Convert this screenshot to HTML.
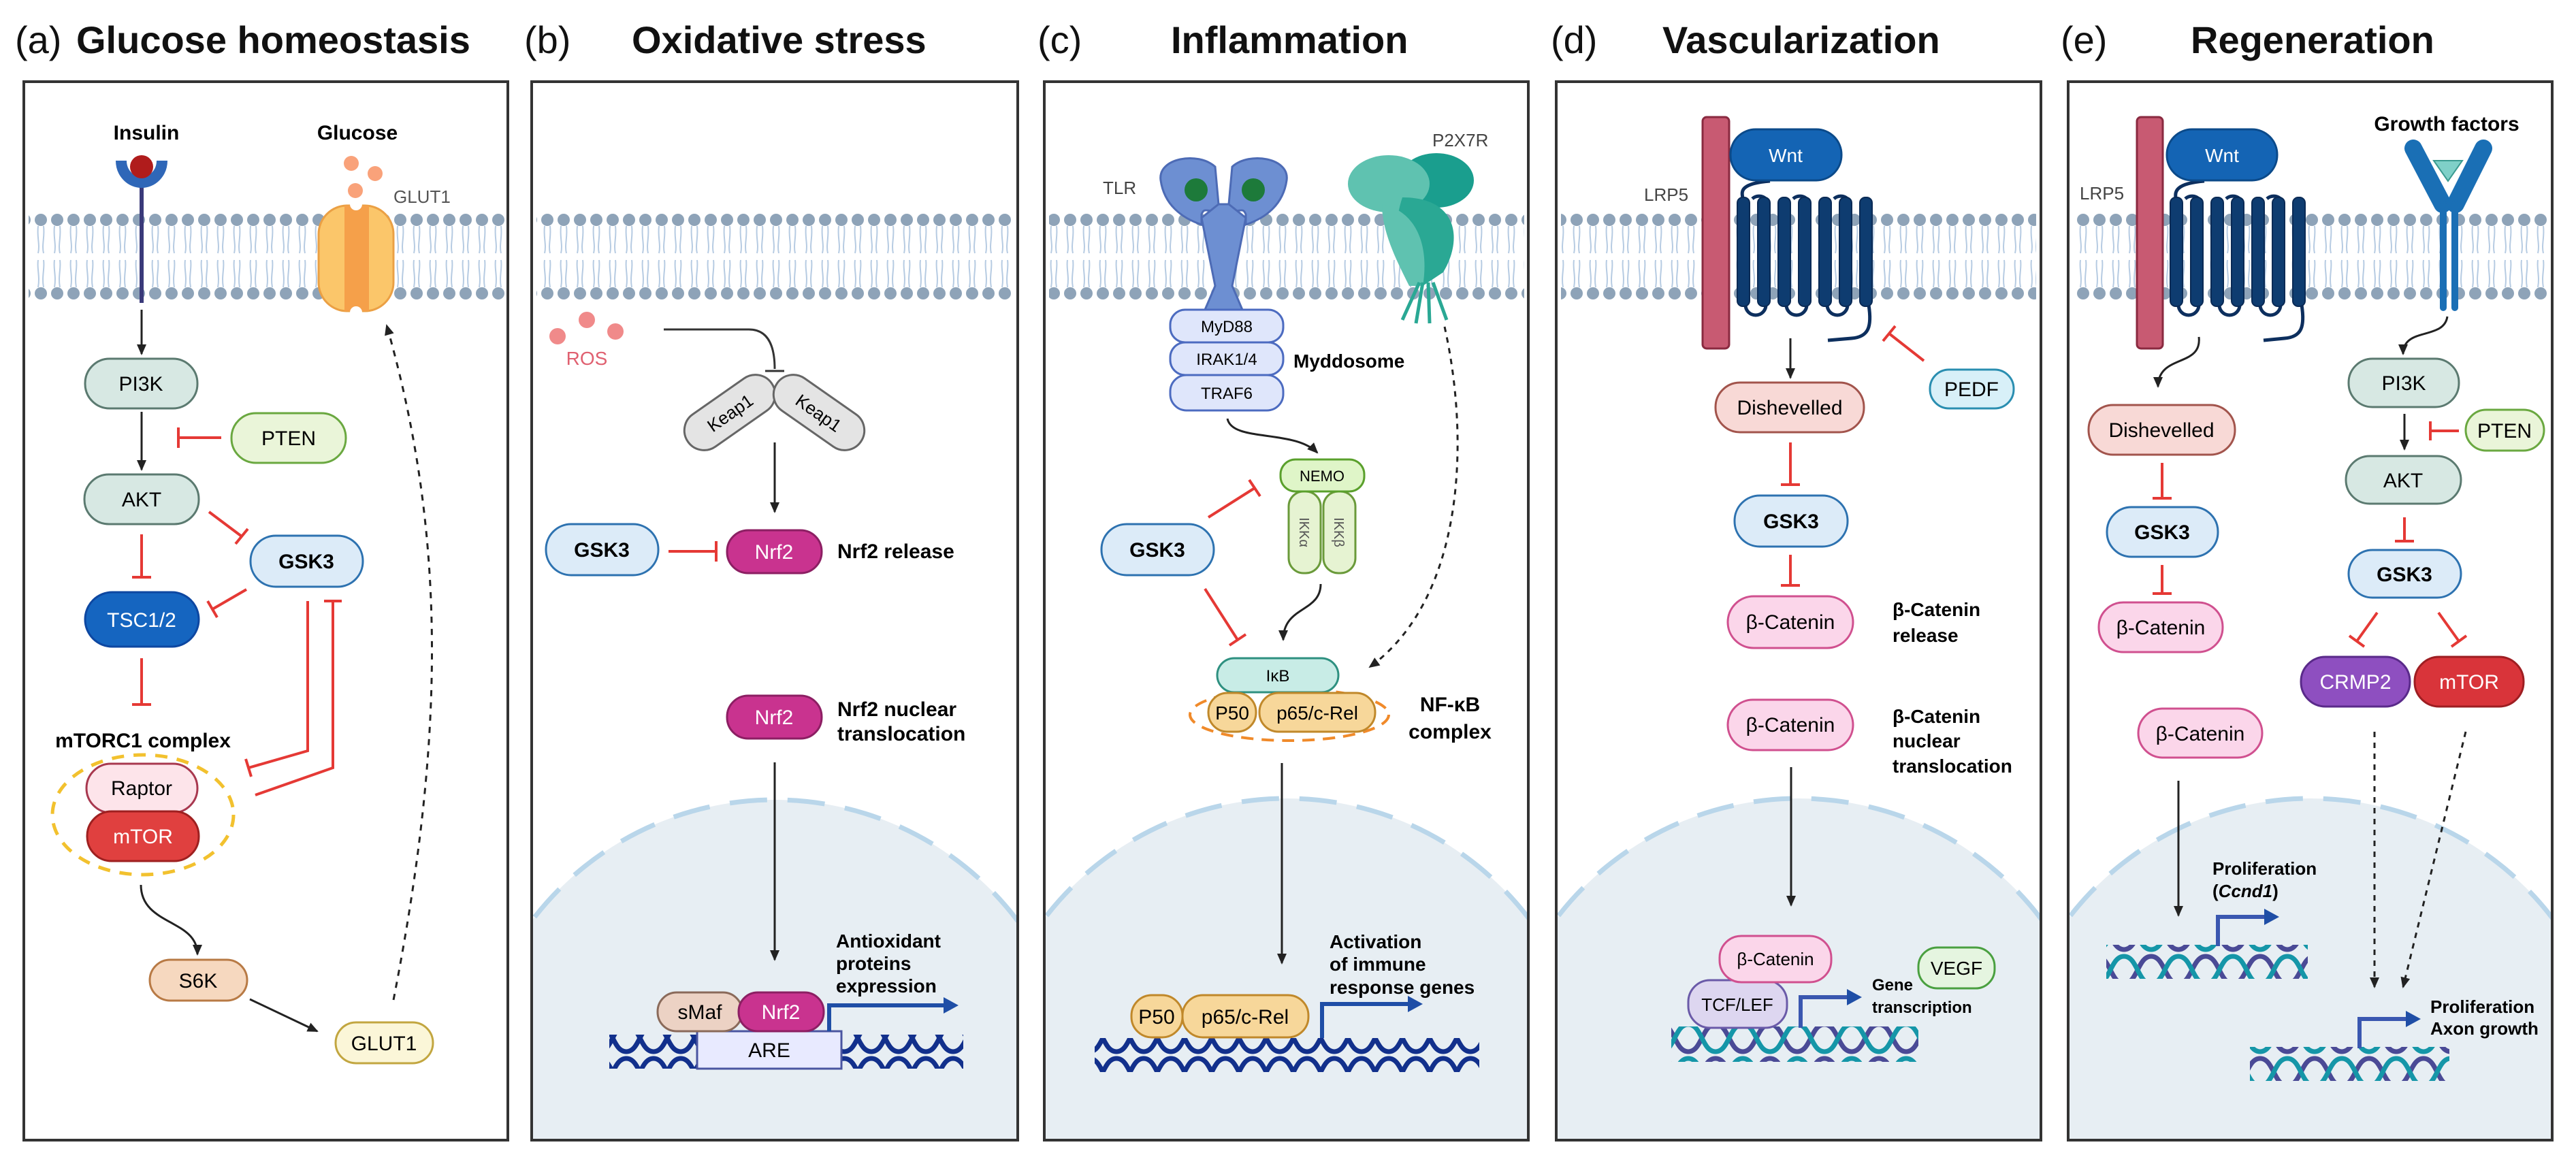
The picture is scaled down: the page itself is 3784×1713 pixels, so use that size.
<!DOCTYPE html>
<html><head><meta charset="utf-8"><style>html,body{margin:0;padding:0;background:#fff;width:3784px;height:1713px;overflow:hidden}svg{display:block}text{font-family:"Liberation Sans",sans-serif}</style></head><body>
<svg width="3784" height="1713" viewBox="0 0 3784 1713" xmlns="http://www.w3.org/2000/svg">
<defs>
<marker id="ah" markerUnits="userSpaceOnUse" markerWidth="20" markerHeight="20" refX="16" refY="10" orient="auto"><path d="M2,3 L18,10 L2,17 Z" fill="#222"/></marker>
<marker id="bh" markerUnits="userSpaceOnUse" markerWidth="24" markerHeight="24" refX="12" refY="12" orient="auto"><path d="M0,0 L22,12 L0,24 Z" fill="#1f4ea6"/></marker>
<pattern id="mem" patternUnits="userSpaceOnUse" x="0" y="314" width="24" height="126">
<g stroke="#b6cbe2" stroke-width="2" fill="none"><path d="M8,18 C6,35 11,45 8,58 M16,18 C18,35 13,45 16,58 M8,68 C6,80 11,92 8,108 M16,68 C18,80 13,92 16,108"/></g>
<circle cx="12" cy="9" r="9" fill="#8ea3b8"/><circle cx="12" cy="117" r="9" fill="#8ea3b8"/></pattern>
<pattern id="dnaB" patternUnits="userSpaceOnUse" width="80" height="50"><g fill="none" stroke="#12308c" stroke-width="7"><path d="M0,5 C20,5 20,45 40,45 C60,45 60,5 80,5"/><path d="M0,45 C20,45 20,5 40,5 C60,5 60,45 80,45"/></g></pattern>
<pattern id="dnaT" patternUnits="userSpaceOnUse" width="80" height="50"><g fill="none" stroke-width="7"><path d="M0,45 C20,45 20,5 40,5 C60,5 60,45 80,45" stroke="#4a4a96"/><path d="M0,5 C20,5 20,45 40,45 C60,45 60,5 80,5" stroke="#1596a8"/></g></pattern>
<clipPath id="cb"><rect x="783" y="122" width="710" height="1552"/></clipPath>
<clipPath id="cc"><rect x="1536" y="122" width="707" height="1552"/></clipPath>
<clipPath id="cd"><rect x="2288" y="122" width="708" height="1552"/></clipPath>
<clipPath id="ce"><rect x="3040" y="122" width="707" height="1552"/></clipPath>
</defs>

<g font-weight="bold" font-size="56" fill="#111">
<text x="22" y="78" font-weight="normal">(a)</text><text x="112" y="78">Glucose homeostasis</text>
<text x="770" y="78" font-weight="normal">(b)</text><text x="928" y="78">Oxidative stress</text>
<text x="1524" y="78" font-weight="normal">(c)</text><text x="1720" y="78">Inflammation</text>
<text x="2278" y="78" font-weight="normal">(d)</text><text x="2442" y="78">Vascularization</text>
<text x="3027" y="78" font-weight="normal">(e)</text><text x="3218" y="78">Regeneration</text>
</g>

<g fill="#e7eef3" stroke="#b9d6ea" stroke-width="7" stroke-dasharray="55 30">
<circle cx="1138" cy="1622" r="447" clip-path="url(#cb)"/>
<circle cx="1890" cy="1620" r="447" clip-path="url(#cc)"/>
<circle cx="2642" cy="1620" r="447" clip-path="url(#cd)"/>
<circle cx="3394" cy="1620" r="447" clip-path="url(#ce)"/>
</g>

<rect x="42" y="314" width="700" height="126" fill="url(#mem)"/>
<rect x="788" y="314" width="700" height="126" fill="url(#mem)"/>
<rect x="1541" y="314" width="698" height="126" fill="url(#mem)"/>
<rect x="2293" y="314" width="698" height="126" fill="url(#mem)"/>
<rect x="3045" y="314" width="698" height="126" fill="url(#mem)"/>

<g fill="none" stroke="#333" stroke-width="4">
<rect x="35" y="120" width="711" height="1555"/>
<rect x="781" y="120" width="714" height="1555"/>
<rect x="1534" y="120" width="711" height="1555"/>
<rect x="2286" y="120" width="712" height="1555"/>
<rect x="3038" y="120" width="711" height="1555"/>
</g>

<g font-size="30" text-anchor="middle">

<text x="215" y="205" font-weight="bold">Insulin</text>
<text x="525" y="205" font-weight="bold">Glucose</text>
<line x1="208" y1="270" x2="208" y2="445" stroke="#3a3a7a" stroke-width="6"/>
<path d="M178,236 A30 32 0 0 0 238,236" fill="none" stroke="#2f67b8" stroke-width="16"/>
<circle cx="208" cy="245" r="17" fill="#b01c1c"/>
<g fill="#f9a27a"><circle cx="516" cy="240" r="11"/><circle cx="551" cy="255" r="11"/><circle cx="522" cy="280" r="11"/></g>
<text x="578" y="298" font-size="26" fill="#555" text-anchor="start">GLUT1</text>
<rect x="468" y="302" width="110" height="155" rx="42" fill="#fbc66a" stroke="#eba044" stroke-width="3"/>
<rect x="506" y="302" width="36" height="155" fill="#f5a04a"/>
<circle cx="523" cy="300" r="9" fill="#fff"/><circle cx="523" cy="459" r="9" fill="#fff"/>

<g stroke="#222" stroke-width="3" fill="none" marker-end="url(#ah)">
<line x1="208" y1="455" x2="208" y2="520"/>
<line x1="208" y1="605" x2="208" y2="690"/>
<path d="M207,1300 C207,1360 290,1350 290,1402"/>
<line x1="367" y1="1468" x2="466" y2="1515"/>
<path d="M578,1469 C650,1100 660,800 568,478" stroke-dasharray="9 9"/>
</g>
<g stroke="#e53935" stroke-width="4" fill="none">
<line x1="325" y1="643" x2="262" y2="643"/><line x1="262" y1="628" x2="262" y2="658"/>
<line x1="208" y1="785" x2="208" y2="848"/><line x1="194" y1="848" x2="222" y2="848"/>
<line x1="307" y1="752" x2="355" y2="788"/><line x1="346" y1="799" x2="364" y2="777"/>
<line x1="362" y1="866" x2="312" y2="895"/><line x1="305" y1="883" x2="319" y2="907"/>
<line x1="208" y1="967" x2="208" y2="1035"/><line x1="194" y1="1035" x2="222" y2="1035"/>
<polyline points="452,883 452,1103 365,1128"/><line x1="361" y1="1115" x2="369" y2="1141"/>
<polyline points="489,883 489,1128 375,1168"/><line x1="476" y1="883" x2="502" y2="883"/>
</g>
<rect x="125" y="527" width="165" height="73" rx="36" fill="#d7e8e3" stroke="#5b7a70" stroke-width="3"/><text x="207" y="574">PI3K</text>
<rect x="340" y="607" width="168" height="73" rx="36" fill="#eaf5d9" stroke="#6aa840" stroke-width="3"/><text x="424" y="654">PTEN</text>
<rect x="124" y="697" width="168" height="73" rx="36" fill="#d7e8e3" stroke="#5b7a70" stroke-width="3"/><text x="208" y="744">AKT</text>
<rect x="368" y="787" width="165" height="75" rx="37" fill="#dcebf8" stroke="#2d72b0" stroke-width="3"/><text x="450" y="835" font-weight="bold">GSK3</text>
<rect x="125" y="870" width="167" height="80" rx="40" fill="#1565c0" stroke="#0d47a1" stroke-width="3"/><text x="208" y="921" fill="#fff">TSC1/2</text>
<text x="210" y="1098" font-weight="bold">mTORC1 complex</text>
<ellipse cx="210" cy="1197" rx="133" ry="88" fill="none" stroke="#f2c12e" stroke-width="5" stroke-dasharray="18 14"/>
<rect x="127" y="1122" width="163" height="72" rx="36" fill="#fde4ea" stroke="#a8384f" stroke-width="3"/><text x="208" y="1168">Raptor</text>
<rect x="128" y="1192" width="164" height="73" rx="36" fill="#e0403f" stroke="#9e2020" stroke-width="3"/><text x="210" y="1239" fill="#fff">mTOR</text>
<rect x="220" y="1410" width="143" height="60" rx="30" fill="#f6d8bf" stroke="#b87a45" stroke-width="3"/><text x="291" y="1451">S6K</text>
<rect x="493" y="1502" width="143" height="60" rx="30" fill="#fbf6d8" stroke="#c2a640" stroke-width="3"/><text x="564" y="1543">GLUT1</text>

<g fill="#f08a8a"><circle cx="819" cy="494" r="12"/><circle cx="862" cy="470" r="12"/><circle cx="904" cy="487" r="12"/></g>
<text x="862" y="536" font-size="28" fill="#e06070">ROS</text>
<path d="M975,484 L1100,484 Q1138,484 1138,542" fill="none" stroke="#333" stroke-width="3"/>
<line x1="1124" y1="545" x2="1152" y2="545" stroke="#333" stroke-width="3"/>
<g transform="rotate(-35 1072 606)"><rect x="997" y="577" width="150" height="58" rx="29" fill="#e4e4e4" stroke="#666" stroke-width="3"/><text x="1072" y="616" font-size="26">Keap1</text></g>
<g transform="rotate(35 1203 606)"><rect x="1128" y="577" width="150" height="58" rx="29" fill="#e4e4e4" stroke="#666" stroke-width="3"/><text x="1203" y="616" font-size="26">Keap1</text></g>
<g stroke="#222" stroke-width="3" marker-end="url(#ah)">
<line x1="1138" y1="650" x2="1138" y2="752"/>
<line x1="1138" y1="1120" x2="1138" y2="1410"/>
</g>
<line x1="982" y1="810" x2="1052" y2="810" stroke="#e53935" stroke-width="4"/><line x1="1052" y1="795" x2="1052" y2="825" stroke="#e53935" stroke-width="4"/>
<rect x="802" y="770" width="165" height="75" rx="37" fill="#dcebf8" stroke="#2d72b0" stroke-width="3"/><text x="884" y="818" font-weight="bold">GSK3</text>
<rect x="1068" y="779" width="139" height="63" rx="31" fill="#c9338f" stroke="#8c1f63" stroke-width="3"/><text x="1137" y="821" fill="#fff">Nrf2</text>
<text x="1230" y="820" font-weight="bold" text-anchor="start">Nrf2 release</text>
<rect x="1068" y="1022" width="139" height="63" rx="31" fill="#c9338f" stroke="#8c1f63" stroke-width="3"/><text x="1137" y="1064" fill="#fff">Nrf2</text>
<text x="1230" y="1052" font-weight="bold" text-anchor="start">Nrf2 nuclear</text>
<text x="1230" y="1088" font-weight="bold" text-anchor="start">translocation</text>
<rect x="895" y="1520" width="520" height="50" fill="url(#dnaB)"/>
<rect x="1024" y="1515" width="212" height="55" fill="#e8eaff" stroke="#4a55a0" stroke-width="3"/><text x="1130" y="1553">ARE</text>
<rect x="966" y="1458" width="124" height="57" rx="28" fill="#ecd2c4" stroke="#8a6a5a" stroke-width="3"/><text x="1028" y="1497">sMaf</text>
<rect x="1085" y="1458" width="125" height="57" rx="28" fill="#c9338f" stroke="#8c1f63" stroke-width="3"/><text x="1147" y="1497" fill="#fff">Nrf2</text>
<path d="M1218,1515 L1218,1477 L1398,1477" fill="none" stroke="#1f4ea6" stroke-width="6" marker-end="url(#bh)"/>
<g font-weight="bold" font-size="28" text-anchor="start"><text x="1228" y="1392">Antioxidant</text><text x="1228" y="1425">proteins</text><text x="1228" y="1458">expression</text></g>

<text x="1620" y="285" font-size="26" fill="#444" text-anchor="start">TLR</text>
<text x="2104" y="215" font-size="26" fill="#444" text-anchor="start">P2X7R</text>
<g fill="#6d8fd2" stroke="#4d6bb5" stroke-width="3">
<path d="M1705,265 C1700,232 1760,222 1785,245 L1790,300 C1780,320 1770,300 1765,315 L1765,330 C1735,320 1710,300 1705,265 Z"/>
<path d="M1890,265 C1895,232 1835,222 1810,245 L1805,300 C1815,320 1825,300 1830,315 L1830,330 C1860,320 1885,300 1890,265 Z"/>
<path d="M1765,320 L1790,300 L1805,300 L1830,320 L1810,420 L1825,455 L1770,455 L1785,420 Z"/>
</g>
<circle cx="1757" cy="279" r="17" fill="#1d7a3a"/><circle cx="1841" cy="279" r="17" fill="#1d7a3a"/>
<g>
<ellipse cx="2110" cy="265" rx="55" ry="40" fill="#1a9e8e"/>
<ellipse cx="2040" cy="270" rx="60" ry="42" fill="#5fc2b0"/>
<path d="M2060,290 C2140,290 2150,350 2120,400 L2090,420 C2060,400 2040,350 2060,290 Z" fill="#2aa894"/>
<path d="M2030,300 C2080,310 2100,360 2090,420 L2070,420 C2050,380 2030,340 2030,300 Z" fill="#5fc2b0"/>
<g stroke="#2aa894" stroke-width="5" fill="none"><path d="M2085,415 L2060,470 M2090,415 L2080,475 M2098,415 L2100,475 M2105,415 L2125,470"/></g>
</g>
<g font-size="24">
<rect x="1719" y="455" width="166" height="48" rx="22" fill="#dfe6fb" stroke="#4c6bc0" stroke-width="3"/><text x="1802" y="488">MyD88</text>
<rect x="1719" y="503" width="166" height="48" rx="22" fill="#dfe6fb" stroke="#4c6bc0" stroke-width="3"/><text x="1802" y="536">IRAK1/4</text>
<rect x="1719" y="551" width="166" height="52" rx="24" fill="#dfe6fb" stroke="#4c6bc0" stroke-width="3"/><text x="1802" y="586">TRAF6</text>
</g>
<text x="1900" y="540" font-size="28" font-weight="bold" text-anchor="start">Myddosome</text>
<g stroke="#222" stroke-width="3" fill="none" marker-end="url(#ah)">
<path d="M1803,615 C1810,650 1900,630 1935,665"/>
<path d="M1940,858 C1940,900 1885,890 1885,940"/>
<path d="M2122,480 C2160,650 2150,880 2012,980" stroke-dasharray="8 8"/>
<line x1="1883" y1="1121" x2="1883" y2="1415"/>
</g>
<g stroke="#e53935" stroke-width="4">
<line x1="1775" y1="760" x2="1843" y2="717"/><line x1="1835" y1="705" x2="1851" y2="729"/>
<line x1="1770" y1="865" x2="1818" y2="940"/><line x1="1830" y1="932" x2="1806" y2="948"/>
</g>
<rect x="1893" y="722" width="47" height="120" rx="22" fill="#e6f3d2" stroke="#6a9a3a" stroke-width="3"/>
<rect x="1944" y="722" width="47" height="120" rx="22" fill="#e6f3d2" stroke="#6a9a3a" stroke-width="3"/>
<text x="1916" y="782" font-size="20" transform="rotate(90 1916 782)" dy="7" fill="#555">IKKα</text>
<text x="1967" y="782" font-size="20" transform="rotate(90 1967 782)" dy="7" fill="#555">IKKβ</text>
<rect x="1881" y="675" width="123" height="47" rx="22" fill="#dff5c8" stroke="#5aa02c" stroke-width="3"/><text x="1942" y="707" font-size="22">NEMO</text>
<rect x="1618" y="770" width="165" height="75" rx="37" fill="#dcebf8" stroke="#2d72b0" stroke-width="3"/><text x="1700" y="818" font-weight="bold">GSK3</text>
<ellipse cx="1894" cy="1050" rx="146" ry="38" fill="none" stroke="#f08a2a" stroke-width="4" stroke-dasharray="18 12"/>
<rect x="1788" y="967" width="178" height="50" rx="25" fill="#c8ece6" stroke="#2e9080" stroke-width="3"/><text x="1877" y="1001" font-size="24">IκB</text>
<rect x="1775" y="1018" width="70" height="57" rx="28" fill="#f7d79a" stroke="#c0882a" stroke-width="3"/><text x="1810" y="1057" font-size="28">P50</text>
<rect x="1850" y="1018" width="170" height="57" rx="28" fill="#f7d79a" stroke="#c0882a" stroke-width="3"/><text x="1935" y="1057" font-size="28">p65/c-Rel</text>
<text x="2130" y="1045" font-weight="bold">NF-κB</text><text x="2130" y="1085" font-weight="bold">complex</text>
<rect x="1608" y="1525" width="565" height="50" fill="url(#dnaB)"/>
<rect x="1662" y="1462" width="75" height="62" rx="30" fill="#f7d79a" stroke="#c0882a" stroke-width="3"/><text x="1699" y="1504">P50</text>
<rect x="1737" y="1462" width="185" height="62" rx="30" fill="#f7d79a" stroke="#c0882a" stroke-width="3"/><text x="1829" y="1504">p65/c-Rel</text>
<path d="M1942,1525 L1942,1475 L2080,1475" fill="none" stroke="#1f4ea6" stroke-width="6" marker-end="url(#bh)"/>
<g font-weight="bold" font-size="28" text-anchor="start"><text x="1953" y="1393">Activation</text><text x="1953" y="1426">of immune</text><text x="1953" y="1460">response genes</text></g>

<text x="2415" y="295" font-size="26" fill="#444" text-anchor="start">LRP5</text>
<rect x="2501" y="172" width="39" height="340" rx="6" fill="#c85a72" stroke="#8a2a40" stroke-width="3"/>
<g fill="none" stroke="#0d2f5e" stroke-width="5">
<path d="M2600,266 C2550,270 2560,285 2560,292"/>
<path d="M2574,292 A15 15 0 0 1 2594,292 M2634,292 A15 15 0 0 1 2654,292 M2694,292 A15 15 0 0 1 2714,292"/>
<path d="M2564,448 A15 15 0 0 0 2594,448 M2624,448 A15 15 0 0 0 2654,448 M2684,448 A15 15 0 0 0 2714,448"/>
<path d="M2745,448 C2750,480 2745,495 2720,497 L2685,500"/>
</g>
<g fill="#0e3c70" stroke="#0a2a55" stroke-width="2">
<rect x="2552" y="290" width="18" height="160" rx="8"/><rect x="2582" y="290" width="18" height="160" rx="8"/><rect x="2612" y="290" width="18" height="160" rx="8"/><rect x="2642" y="290" width="18" height="160" rx="8"/><rect x="2672" y="290" width="18" height="160" rx="8"/><rect x="2702" y="290" width="18" height="160" rx="8"/><rect x="2732" y="290" width="18" height="160" rx="8"/>
</g>
<rect x="2542" y="190" width="163" height="75" rx="37" fill="#1464b4" stroke="#0b4a8a" stroke-width="3"/><text x="2623" y="238" fill="#fff" font-size="28">Wnt</text>
<g stroke="#222" stroke-width="3" marker-end="url(#ah)">
<line x1="2630" y1="497" x2="2630" y2="555"/>
<line x1="2631" y1="1127" x2="2631" y2="1330"/>
</g>
<g stroke="#e53935" stroke-width="4">
<line x1="2826" y1="530" x2="2775" y2="490"/><line x1="2784" y1="479" x2="2766" y2="501"/>
<line x1="2630" y1="650" x2="2630" y2="712"/><line x1="2616" y1="712" x2="2644" y2="712"/>
<line x1="2630" y1="815" x2="2630" y2="860"/><line x1="2616" y1="860" x2="2644" y2="860"/>
</g>
<rect x="2520" y="562" width="218" height="73" rx="36" fill="#f8d9d6" stroke="#a2544c" stroke-width="3"/><text x="2629" y="609">Dishevelled</text>
<rect x="2835" y="543" width="123" height="57" rx="28" fill="#d8f0f8" stroke="#2a8eb0" stroke-width="3"/><text x="2896" y="582">PEDF</text>
<rect x="2548" y="728" width="166" height="75" rx="37" fill="#dcebf8" stroke="#2d72b0" stroke-width="3"/><text x="2631" y="776" font-weight="bold">GSK3</text>
<rect x="2538" y="876" width="184" height="76" rx="38" fill="#fbd6ea" stroke="#d0508f" stroke-width="3"/><text x="2630" y="924">β-Catenin</text>
<rect x="2538" y="1028" width="184" height="74" rx="37" fill="#fbd6ea" stroke="#d0508f" stroke-width="3"/><text x="2630" y="1075">β-Catenin</text>
<g font-weight="bold" font-size="28" text-anchor="start"><text x="2780" y="905">β-Catenin</text><text x="2780" y="943">release</text>
<text x="2780" y="1062">β-Catenin</text><text x="2780" y="1098">nuclear</text><text x="2780" y="1135">translocation</text></g>
<rect x="2455" y="1508" width="363" height="52" fill="url(#dnaT)"/>
<path d="M2645,1510 L2645,1465 L2725,1465" fill="none" stroke="#3a57b0" stroke-width="6" marker-end="url(#bh)"/>
<rect x="2480" y="1440" width="145" height="70" rx="32" fill="#ddd6f0" stroke="#6a5aa8" stroke-width="3"/><text x="2552" y="1485" font-size="26">TCF/LEF</text>
<rect x="2526" y="1375" width="164" height="68" rx="32" fill="#fbd6ea" stroke="#d0508f" stroke-width="3"/><text x="2608" y="1418" font-size="26">β-Catenin</text>
<rect x="2818" y="1392" width="112" height="60" rx="28" fill="#e5f5e0" stroke="#4aa040" stroke-width="3"/><text x="2874" y="1432" font-size="28">VEGF</text>
<g font-weight="bold" font-size="24" text-anchor="start"><text x="2750" y="1455">Gene</text><text x="2750" y="1488">transcription</text></g>

<text x="3055" y="293" font-size="26" fill="#444" text-anchor="start">LRP5</text>
<rect x="3139" y="172" width="38" height="340" rx="6" fill="#c85a72" stroke="#8a2a40" stroke-width="3"/>
<g fill="none" stroke="#0d2f5e" stroke-width="5">
<path d="M3238,266 C3190,270 3196,285 3196,292"/>
<path d="M3210,292 A15 15 0 0 1 3230,292 M3270,292 A15 15 0 0 1 3290,292 M3330,292 A15 15 0 0 1 3350,292"/>
<path d="M3200,448 A15 15 0 0 0 3230,448 M3260,448 A15 15 0 0 0 3290,448 M3320,448 A15 15 0 0 0 3350,448"/>
<path d="M3381,448 C3386,480 3381,495 3356,497 L3325,500"/>
</g>
<g fill="#0e3c70" stroke="#0a2a55" stroke-width="2">
<rect x="3188" y="290" width="18" height="160" rx="8"/><rect x="3218" y="290" width="18" height="160" rx="8"/><rect x="3248" y="290" width="18" height="160" rx="8"/><rect x="3278" y="290" width="18" height="160" rx="8"/><rect x="3308" y="290" width="18" height="160" rx="8"/><rect x="3338" y="290" width="18" height="160" rx="8"/><rect x="3368" y="290" width="18" height="160" rx="8"/>
</g>
<rect x="3183" y="190" width="162" height="75" rx="37" fill="#1464b4" stroke="#0b4a8a" stroke-width="3"/><text x="3264" y="238" fill="#fff" font-size="28">Wnt</text>
<text x="3594" y="192" font-weight="bold">Growth factors</text>
<g stroke="#1a6fb5" stroke-linecap="round">
<line x1="3545" y1="218" x2="3588" y2="300" stroke-width="26"/>
<line x1="3648" y1="218" x2="3607" y2="300" stroke-width="26"/>
<line x1="3589" y1="300" x2="3589" y2="452" stroke-width="10"/>
<line x1="3606" y1="300" x2="3606" y2="452" stroke-width="10"/>
</g>
<path d="M3575,236 L3617,236 L3596,266 Z" fill="#7fd0c8" stroke="#3a9a90" stroke-width="2"/>
<g stroke="#222" stroke-width="3" fill="none" marker-end="url(#ah)">
<path d="M3595,465 C3590,500 3530,480 3530,520"/>
<path d="M3230,495 C3235,540 3170,520 3170,568"/>
<line x1="3532" y1="608" x2="3532" y2="660"/>
<line x1="3200" y1="1147" x2="3200" y2="1345"/>
<line x1="3488" y1="1075" x2="3488" y2="1450" stroke-dasharray="8 8"/>
<line x1="3622" y1="1075" x2="3530" y2="1450" stroke-dasharray="8 8"/>
</g>
<g stroke="#e53935" stroke-width="4">
<line x1="3176" y1="680" x2="3176" y2="732"/><line x1="3162" y1="732" x2="3190" y2="732"/>
<line x1="3176" y1="830" x2="3176" y2="872"/><line x1="3162" y1="872" x2="3190" y2="872"/>
<line x1="3612" y1="633" x2="3570" y2="633"/><line x1="3570" y1="619" x2="3570" y2="647"/>
<line x1="3532" y1="760" x2="3532" y2="795"/><line x1="3518" y1="795" x2="3546" y2="795"/>
<line x1="3492" y1="900" x2="3462" y2="942"/><line x1="3451" y1="934" x2="3473" y2="950"/>
<line x1="3582" y1="900" x2="3612" y2="942"/><line x1="3623" y1="934" x2="3601" y2="950"/>
</g>
<rect x="3068" y="595" width="215" height="73" rx="36" fill="#f8d9d6" stroke="#a2544c" stroke-width="3"/><text x="3175" y="642">Dishevelled</text>
<rect x="3095" y="745" width="163" height="73" rx="36" fill="#dcebf8" stroke="#2d72b0" stroke-width="3"/><text x="3176" y="792" font-weight="bold">GSK3</text>
<rect x="3083" y="885" width="182" height="73" rx="36" fill="#fbd6ea" stroke="#d0508f" stroke-width="3"/><text x="3174" y="932">β-Catenin</text>
<rect x="3450" y="527" width="162" height="71" rx="35" fill="#d7e8e3" stroke="#5b7a70" stroke-width="3"/><text x="3531" y="573">PI3K</text>
<rect x="3622" y="602" width="115" height="60" rx="30" fill="#eaf5d9" stroke="#6aa840" stroke-width="3"/><text x="3679" y="643">PTEN</text>
<rect x="3446" y="670" width="169" height="70" rx="35" fill="#d7e8e3" stroke="#5b7a70" stroke-width="3"/><text x="3530" y="716">AKT</text>
<rect x="3450" y="808" width="165" height="70" rx="35" fill="#dcebf8" stroke="#2d72b0" stroke-width="3"/><text x="3532" y="854" font-weight="bold">GSK3</text>
<rect x="3380" y="965" width="160" height="73" rx="36" fill="#8e4fc0" stroke="#5a2a8a" stroke-width="3"/><text x="3460" y="1012" fill="#fff">CRMP2</text>
<rect x="3547" y="965" width="160" height="73" rx="36" fill="#d9343a" stroke="#9e1e22" stroke-width="3"/><text x="3627" y="1012" fill="#fff">mTOR</text>
<rect x="3141" y="1041" width="182" height="72" rx="36" fill="#fbd6ea" stroke="#d0508f" stroke-width="3"/><text x="3232" y="1088">β-Catenin</text>
<rect x="3094" y="1388" width="296" height="50" fill="url(#dnaT)"/>
<path d="M3258,1390 L3258,1347 L3338,1347" fill="none" stroke="#3a57b0" stroke-width="6" marker-end="url(#bh)"/>
<g font-weight="bold" font-size="26" text-anchor="start"><text x="3250" y="1285">Proliferation</text><text x="3250" y="1318">(<tspan font-style="italic">Ccnd1</tspan>)</text>
<text x="3570" y="1488">Proliferation</text><text x="3570" y="1520">Axon growth</text></g>
<rect x="3305" y="1538" width="293" height="50" fill="url(#dnaT)"/>
<path d="M3466,1540 L3466,1497 L3546,1497" fill="none" stroke="#3a57b0" stroke-width="6" marker-end="url(#bh)"/>
</g>
</svg>
</body></html>
